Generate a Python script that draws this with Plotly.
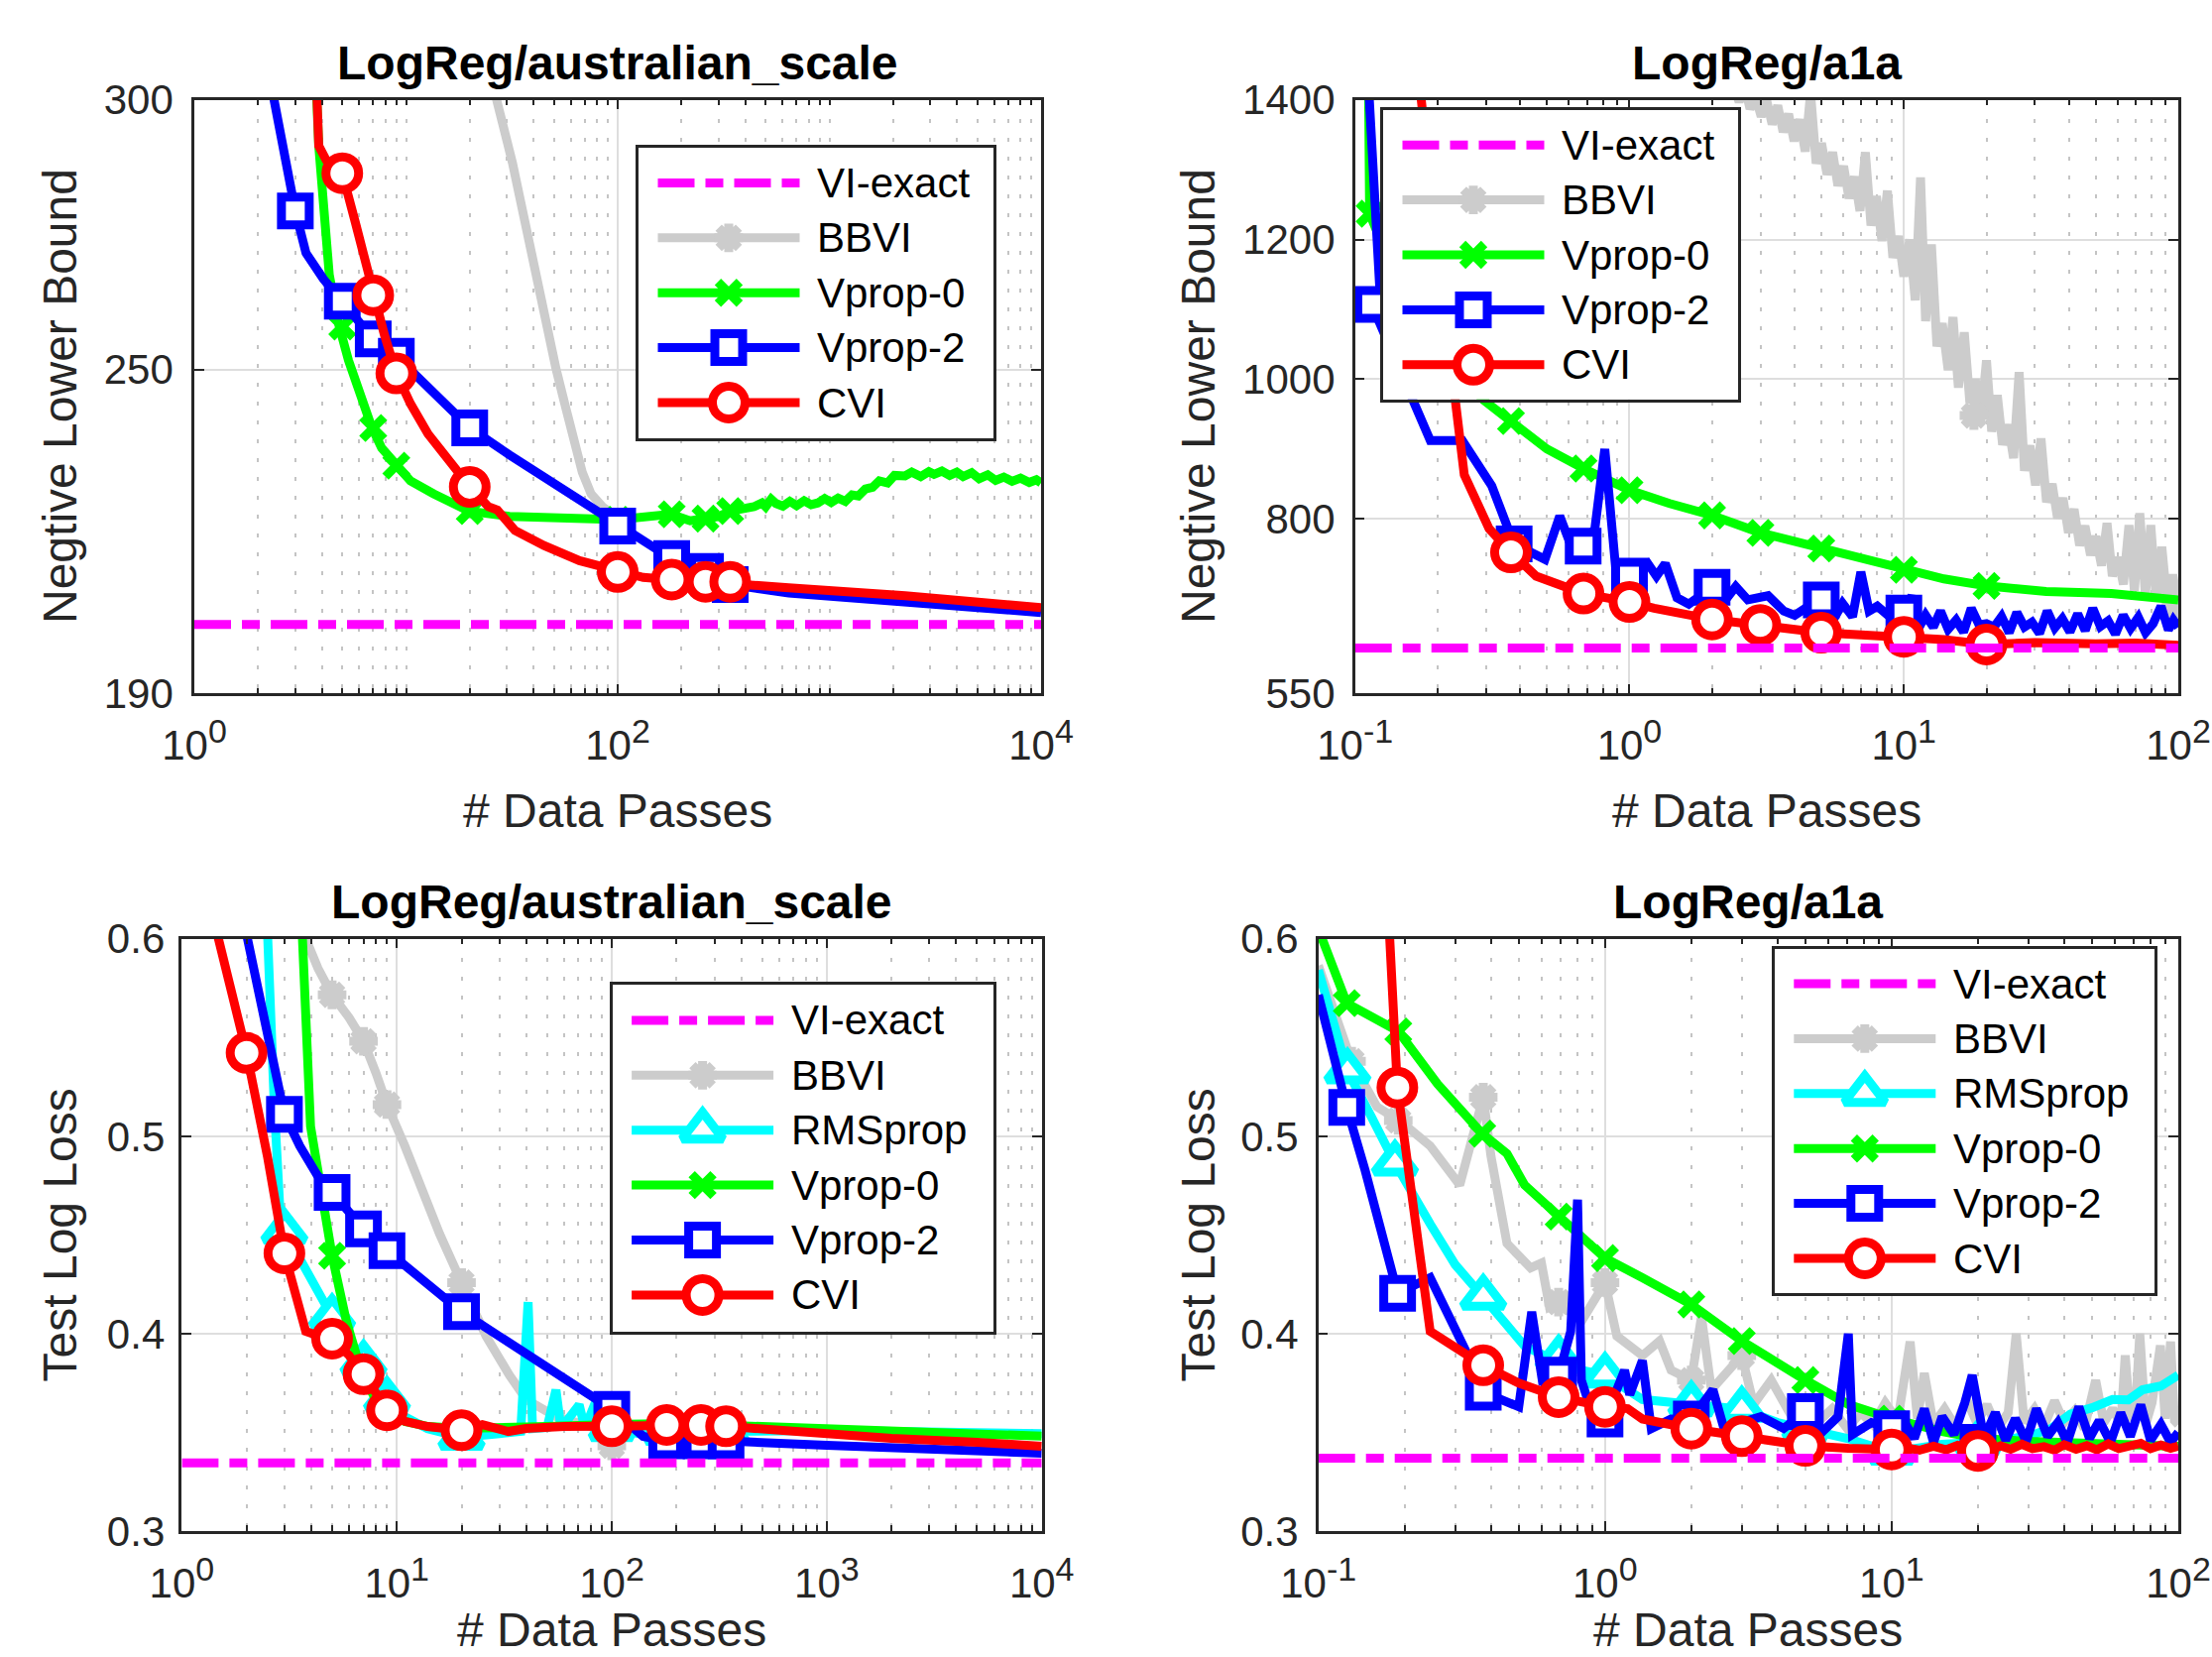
import plotly.graph_objects as go

W, H = 2231, 1671
FONT = "Liberation Sans, Arial, Helvetica, sans-serif"
AXC = "#262626"

# ======================= DATA =======================
# --- Top-left: LogReg/australian_scale, Negtive Lower Bound ---
tl_vi_x = [1, 10000]
tl_vi_y = [202.8, 202.8]

tl_bbvi_x = [24, 26.8, 31.8, 38.5, 45.1, 51.1, 56.2, 61.8, 68, 74.8, 84.8, 96.3, 100]
tl_bbvi_y = [310, 300, 288.4, 272.4, 260.4, 250.2, 243.7, 236.5, 231, 227, 224.6, 223, 222.6]

tl_vp0_x = [3.7, 3.82, 3.87, 4.34, 4.77, 5.35, 6.03, 6.88, 7.67, 8.98, 10.5, 13.5, 19.8, 30.8, 51, 100,
            179, 220, 256, 300, 341,
            400, 440, 480, 500, 531, 560, 603, 650, 700, 760,
            820, 881, 950, 1020, 1100, 1190, 1280, 1370, 1480, 1600,
            1720, 1884, 2030, 2276, 2450, 2700, 2950, 3124, 3400, 3700,
            4000, 4285, 4700, 5100, 5600, 6100, 6668, 7300, 8000, 8800,
            9500, 10000]
tl_vp0_y = [310, 300, 291.5, 267.6, 258.9, 251.7, 245.3, 239.4, 235.5, 232.2, 229.4, 227.0, 223.8, 222.8, 222.4, 222.2,
            223.2, 222.0, 222.4, 222.8, 223.8,
            224.2, 224.6, 225.3, 224.6, 226.0, 225.2, 224.7, 225.6, 224.8, 225.7,
            225.0, 225.3, 226.1, 225.4, 226.2, 225.6, 226.8, 226.6, 227.9, 228.2,
            229.4, 229.0, 230.4, 230.3, 231.0, 230.2, 231.1, 230.6, 231.2, 230.4,
            231.0, 230.2, 230.9, 229.8, 230.5, 229.5, 230.1, 229.3, 229.9, 229.1,
            229.6, 229.0]
tl_vp0_mx = [5, 7, 9, 20, 100, 180, 260, 340]
tl_vp0_my = [258, 239.2, 232.2, 223.8, 222.2, 223.2, 222.4, 223.8]

tl_vp2_x = [2.3, 2.38, 3, 3.37, 4.07, 5, 7, 9, 12.7, 20, 30.8, 51, 100, 179, 256, 341, 643, 2280, 10000]
tl_vp2_y = [310, 300, 279.4, 271.6, 266.8, 262.7, 255.7, 252.5, 246.9, 239.2, 234.2, 228.6, 221.0, 215.0, 212.6, 210.2, 208.6, 206.9, 205.0]
tl_vp2_mx = [3, 5, 7, 9, 20, 100, 180, 260, 340]
tl_vp2_my = [279.4, 262.7, 255.7, 252.5, 239.2, 221.0, 215.0, 212.6, 210.2]

tl_cvi_x = [3.72, 3.77, 3.87, 4.2, 5, 5.77, 7, 7.9, 9, 10.5, 12.7, 16.4, 20, 24.5, 27, 32.7, 44.9, 66, 100,
            132, 180, 260, 340, 643, 2280, 10000]
tl_cvi_y = [310, 300, 291.5, 288.8, 286.4, 277.2, 263.8, 256.5, 249.3, 243.7, 238.1, 232.2, 228.3, 224.6, 224.0,
            220.2, 217.4, 214.6, 212.5, 211.5, 211.1, 210.7, 210.7, 209.6, 208.1, 205.9]
tl_cvi_mx = [5, 7, 9, 20, 100, 180, 260, 340]
tl_cvi_my = [286.4, 263.8, 249.3, 228.3, 212.5, 211.1, 210.7, 210.7]

# --- Top-right: LogReg/a1a, Negtive Lower Bound ---
tr_vi_x = [0.1, 100]
tr_vi_y = [615, 615]

tr_bbvi_x = [2.4, 2.51, 2.63, 2.75, 2.88, 3.02, 3.16, 3.31, 3.47, 3.63, 3.80,
             3.98, 4.17, 4.37, 4.57, 4.79, 5.01, 5.25, 5.50, 5.75, 6.03,
             6.31, 6.61, 6.92, 7.24, 7.59, 7.94, 8.32, 8.71, 9.12, 9.55,
             10.0, 10.5, 11.0, 11.5, 12.0, 12.6, 13.2, 13.8, 14.5, 15.1,
             15.8, 16.6, 17.4, 18.2, 19.1, 20.0, 20.9, 21.9, 22.9, 24.0,
             25.1, 26.3, 27.5, 28.8, 30.2, 31.6, 33.1, 34.7, 36.3, 38.0,
             39.8, 41.7, 43.7, 45.7, 47.9, 50.1, 52.5, 55.0, 57.5, 60.3,
             63.1, 66.1, 69.2, 72.4, 75.9, 79.4, 83.2, 87.1, 91.2, 95.5, 100]
tr_bbvi_y = [1420, 1397, 1420, 1387, 1405, 1376, 1400, 1365, 1392, 1354, 1380,
             1341, 1372, 1326, 1410, 1309, 1338, 1293, 1325, 1277, 1305,
             1259, 1290, 1241, 1325, 1220, 1262, 1198, 1270, 1174, 1205,
             1147, 1200, 1113, 1289, 1083, 1193, 1047, 1080, 1013, 1089,
             988, 1067, 966, 1000, 943, 1027, 925, 977, 906, 935,
             887, 1010, 869, 905, 848, 915, 824, 850, 801, 830,
             780, 814, 762, 790, 748, 775, 733, 794, 718, 745,
             706, 791, 697, 808, 690, 791, 682, 760, 677, 720, 672]
tr_bbvi_mx = [18, 98]
tr_bbvi_my = [948, 673]

tr_vp0_x = [0.112, 0.113, 0.15, 0.2, 0.294, 0.37, 0.5, 0.68, 0.8, 1.0, 1.4, 2.0, 3.0, 4.0, 5.0, 7.0, 10, 14, 20, 33, 57, 100]
tr_vp0_y = [1420, 1237, 1120, 1040, 970, 940, 900, 872, 858, 841, 822, 805, 780, 768, 757.5, 743, 727, 714, 704, 696, 693, 684]
tr_vp0_mx = [0.113, 0.37, 0.68, 1, 2, 3, 5, 10, 20]
tr_vp0_my = [1237, 940, 872, 841, 805, 780, 757.5, 727, 704]

tr_vp2_x = [0.112, 0.123, 0.115, 0.162, 0.188, 0.246, 0.315, 0.366, 0.38, 0.492, 0.557, 0.613, 0.678, 0.748, 0.813, 0.889,
            1.0, 1.166, 1.254, 1.35, 1.49, 1.645, 2.0, 2.21, 2.44, 2.7, 3.2, 3.65, 4.0, 4.5, 5.0, 5.65, 5.98, 6.5,
            6.97, 7.47, 8.0, 9.0, 10.0, 10.7,
            11.2, 12, 12.8, 13.6, 14.5, 15.5, 16.5, 17.6, 18.8, 20,
            21.3, 22.7, 24.2, 25.8, 27.5, 29.3, 31.2, 33.3, 35.5, 37.8,
            40.3, 43, 45.8, 48.8, 52, 55.5, 59, 63, 67, 71.5,
            76, 81, 86.5, 92, 96, 100]
tr_vp2_y = [1420, 1131, 1107, 971, 912, 912, 847, 780, 764, 742, 804, 761, 761, 786, 900, 733,
            718, 736, 718, 736, 687, 678, 702, 681, 703, 684, 690, 668, 662, 675, 684, 662, 679, 660,
            724, 668, 675, 658, 665, 690,
            640, 662, 645, 668, 642, 655, 638, 672, 648, 650,
            645, 660, 637, 666, 645, 652, 636, 668, 644, 657,
            638, 664, 640, 672, 646, 654, 635, 662, 643, 659,
            637, 650, 675, 641, 655, 645]
tr_vp2_mx = [0.115, 0.38, 0.678, 1.0, 2.0, 5.0, 10.0]
tr_vp2_my = [1107, 764, 761, 718, 702, 684, 665]

tr_cvi_x = [0.172, 0.1743, 0.2, 0.234, 0.25, 0.308, 0.37, 0.457, 0.68, 1.0, 1.23, 2.0, 3.0, 5.0, 7.0, 10, 14, 20, 30, 50, 70, 100]
tr_cvi_y = [1450, 1400, 1180, 971, 863, 786, 752, 718, 693, 681, 672, 656, 648, 637, 634, 631, 627, 620, 623, 621, 622, 619]
tr_cvi_mx = [0.37, 0.68, 1, 2, 3, 5, 10, 20]
tr_cvi_my = [752, 693, 681, 656, 648, 637, 631, 620]

# --- Bottom-left: LogReg/australian_scale, Test Log Loss ---
bl_vi_x = [1, 10000]
bl_vi_y = [0.3346, 0.3346]

bl_bbvi_x = [3.6, 3.77, 4.3, 5, 6, 7, 8, 9, 10.9, 13.1, 15.8, 20, 23, 26, 33.4, 40, 55, 80, 100, 115]
bl_bbvi_y = [0.612, 0.6, 0.585, 0.5716, 0.56, 0.5481, 0.532, 0.516, 0.495, 0.4728, 0.4506, 0.4259, 0.4111,
             0.3988, 0.379, 0.3667, 0.358, 0.353, 0.3432, 0.35]
bl_bbvi_mx = [5, 7, 9, 20, 100]
bl_bbvi_my = [0.5716, 0.5481, 0.516, 0.4259, 0.3432]

bl_rms_x = [2.45, 2.51, 2.69, 2.85, 3.0, 3.77, 5.0, 5.83, 7.0, 9.0, 10.9, 13.9, 20, 30, 37.7, 40.8, 42.8, 50, 55, 58,
            70.5, 75, 85, 92, 100, 140, 300, 1000, 3000, 10000]
bl_rms_y = [0.615, 0.6, 0.5163, 0.4654, 0.452, 0.4333, 0.4086, 0.395, 0.3852, 0.3667, 0.358, 0.3519, 0.3475, 0.3494,
            0.3506, 0.416, 0.3519, 0.3525, 0.3716, 0.352, 0.364, 0.352, 0.3667, 0.352, 0.3519, 0.349, 0.3505, 0.351,
            0.3502, 0.3494]
bl_rms_mx = [3, 5, 7, 9, 20, 100, 180, 260, 340]
bl_rms_my = [0.452, 0.4086, 0.3852, 0.3667, 0.3475, 0.3519, 0.35, 0.35, 0.35]

bl_vp0_x = [3.6, 3.64, 3.97, 4.4, 5, 5.83, 6.6, 7.5, 8.48, 10.9, 14, 20, 30, 50, 100, 200, 500, 1000, 3000, 10000]
bl_vp0_y = [0.62, 0.6, 0.505, 0.478, 0.4395, 0.4062, 0.3864, 0.372, 0.3617, 0.3556, 0.353, 0.352, 0.3522, 0.353,
            0.354, 0.3545, 0.353, 0.352, 0.350, 0.3481]
bl_vp0_mx = [5, 7, 9, 20, 100, 180, 260, 340]
bl_vp0_my = [0.4395, 0.38, 0.3605, 0.352, 0.354, 0.3545, 0.354, 0.3535]

bl_vp2_x = [1.95, 2.02, 3, 3.54, 4.27, 5, 7, 9, 20, 100, 140, 180, 260, 340, 1000, 3000, 10000]
bl_vp2_y = [0.62, 0.6, 0.5111, 0.495, 0.4802, 0.4716, 0.4531, 0.442, 0.4111, 0.3617, 0.348, 0.3457, 0.3457,
            0.3457, 0.3435, 0.3415, 0.3395]
bl_vp2_mx = [3, 5, 7, 9, 20, 100, 180, 260, 340]
bl_vp2_my = [0.5111, 0.4716, 0.4531, 0.442, 0.4111, 0.3617, 0.3457, 0.3457, 0.3457]

bl_cvi_x = [1.45, 1.48, 2, 2.5, 3, 3.4, 3.77, 4.3, 5, 6, 7, 8, 9, 10.9, 13.9, 20, 25, 29.5, 33, 40, 60, 100,
            180, 260, 340, 600, 1000, 2000, 5000, 10000]
bl_cvi_y = [0.61, 0.6, 0.5422, 0.49, 0.4407, 0.42, 0.4012, 0.399, 0.3975, 0.389, 0.3795, 0.37, 0.3612, 0.3556,
            0.353, 0.3511, 0.354, 0.3519, 0.3505, 0.352, 0.353, 0.3531, 0.3538, 0.3538, 0.3531, 0.351, 0.349,
            0.347, 0.345, 0.343]
bl_cvi_mx = [2, 3, 5, 7, 9, 20, 100, 180, 260, 340]
bl_cvi_my = [0.5422, 0.4407, 0.3975, 0.3795, 0.3612, 0.3511, 0.3531, 0.3538, 0.3538, 0.3531]

# --- Bottom-right: LogReg/a1a, Test Log Loss ---
br_vi_x = [0.1, 100]
br_vi_y = [0.337, 0.337]

br_bbvi_x = [0.1, 0.1305, 0.16, 0.194, 0.2455, 0.3113, 0.376, 0.4, 0.455, 0.55, 0.6, 0.64, 0.689, 0.827, 1.0, 1.1,
             1.35, 1.55, 1.7, 2.0, 2.17, 2.35, 3.0, 3.3, 3.8, 4.4, 5.0,
             5.5, 6.2, 7, 7.8, 8.6, 9.5, 10.5, 11.6, 12.3, 13,
             14, 15.3, 16.7, 18.2, 19.8, 21.5, 23.4, 25.5, 27.2, 29,
             31.5, 34, 37, 40, 43.5, 47, 51.5, 55, 59, 63,
             65.3, 68, 71, 73.4, 77, 81, 86.6, 90, 94, 97, 100]
br_bbvi_y = [0.5864, 0.538, 0.515, 0.5074, 0.4951, 0.4753, 0.5198, 0.49, 0.4457, 0.4333, 0.4358, 0.4136, 0.416,
             0.4062, 0.4259, 0.3988, 0.3889, 0.3963, 0.3815, 0.3765, 0.4086, 0.3716, 0.3889, 0.3642, 0.3765, 0.36,
             0.3617,
             0.355, 0.362, 0.352, 0.360, 0.354, 0.365, 0.356, 0.396, 0.357, 0.380,
             0.354, 0.362, 0.353, 0.367, 0.355, 0.364, 0.352, 0.36, 0.40, 0.355,
             0.362, 0.353, 0.366, 0.355, 0.361, 0.352, 0.3765, 0.355, 0.362, 0.354,
             0.389, 0.356, 0.363, 0.40, 0.354, 0.365, 0.394, 0.357, 0.396, 0.356, 0.354]
br_bbvi_mx = [0.1305, 0.19, 0.376, 0.689, 1.0, 2.0, 3.0, 5.0]
br_bbvi_my = [0.538, 0.508, 0.5198, 0.416, 0.4259, 0.3765, 0.3889, 0.3617]

br_rms_x = [0.1, 0.1263, 0.153, 0.185, 0.2455, 0.3, 0.376, 0.524, 0.632, 0.689, 0.8, 1.0, 1.35, 1.96, 3.0, 4.0,
            5.0, 7.0, 10, 15, 20, 30, 36, 42, 50, 59, 67, 75, 87, 100]
br_rms_y = [0.5841, 0.533, 0.5099, 0.4864, 0.4556, 0.435, 0.4185, 0.3938, 0.388, 0.3877, 0.382, 0.379, 0.3667,
            0.3645, 0.3617, 0.355, 0.352, 0.347, 0.340, 0.344, 0.345, 0.348, 0.352, 0.3593, 0.3625, 0.3667, 0.3665,
            0.3716, 0.3735, 0.379]
br_rms_mx = [0.1263, 0.185, 0.376, 0.689, 1.0, 2.0, 3.0, 5.0, 10, 20]
br_rms_my = [0.533, 0.4864, 0.4185, 0.3877, 0.379, 0.3645, 0.3617, 0.352, 0.340, 0.345]

br_vp0_x = [0.1, 0.1029, 0.1256, 0.19, 0.2283, 0.2606, 0.373, 0.455, 0.524, 0.689, 1.0, 1.35, 2.0, 3.0, 3.82,
            5.0, 7.06, 9.4, 10, 15, 20, 30, 50, 100]
br_vp0_y = [0.605, 0.6, 0.5674, 0.5531, 0.538, 0.5264, 0.5013, 0.4912, 0.4753, 0.4593, 0.4383, 0.4284, 0.4148,
            0.3963, 0.3864, 0.3765, 0.3642, 0.358, 0.357, 0.3505, 0.347, 0.3455, 0.344, 0.343]
br_vp0_mx = [0.1256, 0.19, 0.373, 0.689, 1.0, 2.0, 3.0, 5.0, 10, 20]
br_vp0_my = [0.5674, 0.5531, 0.5013, 0.4593, 0.4383, 0.4148, 0.3963, 0.3765, 0.357, 0.347]

br_vp2_x = [0.1, 0.1256, 0.1455, 0.189, 0.2455, 0.283, 0.3266, 0.376, 0.5, 0.555,
            0.604, 0.689, 0.759, 0.802, 0.827, 0.9, 1.0, 1.17, 1.22, 1.35,
            1.45, 1.7, 2.0, 2.38, 2.6, 3.0, 3.5, 4.2, 5.0, 5.7,
            6.5, 7.06, 7.3, 8.5, 10,
            11, 12, 13, 14, 15, 16.5, 18, 19.1, 21, 23,
            25, 27, 29.5, 32, 35, 38, 41, 45, 49, 53,
            58, 63, 68, 74, 80, 87, 94, 100]
br_vp2_y = [0.5716, 0.5146, 0.4828, 0.4205, 0.4284, 0.4111, 0.3914, 0.3704, 0.363, 0.4111,
            0.3765, 0.379, 0.4012, 0.4679, 0.3765, 0.36, 0.3568, 0.3815, 0.3691, 0.3864,
            0.3519, 0.3568, 0.3568, 0.3716, 0.352, 0.355, 0.358, 0.352, 0.3605, 0.35,
            0.358, 0.4, 0.349, 0.355, 0.3519,
            0.356, 0.347, 0.362, 0.345, 0.358, 0.349, 0.365, 0.379, 0.347, 0.36,
            0.346, 0.357, 0.3455, 0.362, 0.348, 0.355, 0.345, 0.363, 0.347, 0.356,
            0.345, 0.36, 0.348, 0.364, 0.346, 0.354, 0.345, 0.35]
br_vp2_mx = [0.1256, 0.189, 0.376, 0.689, 1.0, 2.0, 5.0, 10, 20]
br_vp2_my = [0.5146, 0.4205, 0.3704, 0.379, 0.3568, 0.3568, 0.3605, 0.3519, 0.345]

br_cvi_x = [0.175, 0.1774, 0.1886, 0.2053, 0.2455, 0.376, 0.5, 0.689, 0.85, 1.0, 1.2, 1.35, 2.0, 2.5, 3.0, 4.0,
            5.0, 7.06, 10,
            11, 12.5, 14, 15.5, 17, 18.5, 20, 22, 24, 26,
            28.5, 31, 34, 37, 40, 44, 48, 52, 57, 62,
            68, 74, 80, 87, 94, 100]
br_cvi_y = [0.61, 0.6, 0.5247, 0.4828, 0.4012, 0.384, 0.375, 0.3679, 0.365, 0.363, 0.362, 0.3568, 0.3519, 0.350,
            0.3481, 0.346, 0.3432, 0.342, 0.3414,
            0.3425, 0.341, 0.343, 0.3412, 0.3435, 0.3418, 0.3406, 0.341, 0.3432, 0.3415,
            0.344, 0.3418, 0.3428, 0.341, 0.3438, 0.3415, 0.3433, 0.3412, 0.3442, 0.3418,
            0.343, 0.3445, 0.3418, 0.3436, 0.342, 0.343]
br_cvi_mx = [0.1886, 0.376, 0.689, 1.0, 2.0, 3.0, 5.0, 10, 20]
br_cvi_my = [0.5247, 0.384, 0.3679, 0.363, 0.3519, 0.3481, 0.3432, 0.3414, 0.3406]

# tick labels
SUP = "<sup><span style='font-size:34px'>%s</span></sup>"
xt_tl_vals = [1, 100, 10000]
xt_tl_text = ["10" + SUP % "0", "10" + SUP % "2", "10" + SUP % "4"]
xt_r_vals = [0.1, 1, 10, 100]
xt_r_text = ["10" + SUP % "-1", "10" + SUP % "0", "10" + SUP % "1", "10" + SUP % "2"]
xt_bl_vals = [1, 10, 100, 1000, 10000]
xt_bl_text = ["10" + SUP % "0", "10" + SUP % "1", "10" + SUP % "2", "10" + SUP % "3", "10" + SUP % "4"]
yt_tl_vals = [190, 250, 300]
yt_tr_vals = [550, 800, 1000, 1200, 1400]
yt_b_vals = [0.3, 0.4, 0.5, 0.6]
yt_b_text = ["0.3", "0.4", "0.5", "0.6"]

# ======================= STYLES =======================
STY = {
    "VI-exact": dict(color="#ff00ff", symbol=None),
    "BBVI": dict(color="#cccccc", symbol="asterisk", size=24, fill=None),
    "RMSprop": dict(color="#00ffff", symbol="triangle-up", size=36, fill="white"),
    "Vprop-0": dict(color="#00ff00", symbol="x-thin", size=22, fill=None),
    "Vprop-2": dict(color="#0000ff", symbol="square", size=28, fill="white"),
    "CVI": dict(color="#ff0000", symbol="circle", size=33, fill="white"),
}
LW = 9
VIDASH = "37px,11px,18px,11px"


def marker_dict(name):
    s = STY[name]
    if s["fill"] is None:
        return dict(symbol=s["symbol"], size=s["size"], color=s["color"],
                    line=dict(color=s["color"], width=LW))
    return dict(symbol=s["symbol"], size=s["size"], color=s["fill"],
                line=dict(color=s["color"], width=LW))


def minor_vals(d0, d1, extra=()):
    v = [k * 10.0 ** d for d in range(d0, d1) for k in range(2, 10)]
    return sorted(v + list(extra))


PANELS = [
    dict(n=1, box=(196, 100.7, 1050, 699.3), xr=[0, 4], yr=[190, 300],
         xtv=xt_tl_vals, xtt=xt_tl_text, ytv=yt_tl_vals, ytt=[str(v) for v in yt_tl_vals],
         minor=minor_vals(0, 4, (10, 1000)), title="LogReg/australian_scale", ylabel="Negtive Lower Bound",
         leg=(644, 148.9, 1002, 441.6), xlab_dy=118, ystand=10,
         series=[("BBVI", tl_bbvi_x, tl_bbvi_y, None, None),
                 ("Vprop-0", tl_vp0_x, tl_vp0_y, tl_vp0_mx, tl_vp0_my),
                 ("Vprop-2", tl_vp2_x, tl_vp2_y, tl_vp2_mx, tl_vp2_my),
                 ("CVI", tl_cvi_x, tl_cvi_y, tl_cvi_mx, tl_cvi_my),
                 ("VI-exact", tl_vi_x, tl_vi_y, None, None)],
         order=["VI-exact", "BBVI", "Vprop-0", "Vprop-2", "CVI"]),
    dict(n=2, box=(1366.7, 100.7, 2197, 699.3), xr=[-1, 2], yr=[550, 1400],
         xtv=xt_r_vals, xtt=xt_r_text, ytv=yt_tr_vals, ytt=[str(v) for v in yt_tr_vals],
         minor=minor_vals(-1, 2), title="LogReg/a1a", ylabel="Negtive Lower Bound",
         leg=(1395, 110.7, 1753, 402.7), xlab_dy=118, ystand=9,
         series=[("BBVI", tr_bbvi_x, tr_bbvi_y, tr_bbvi_mx, tr_bbvi_my),
                 ("Vprop-0", tr_vp0_x, tr_vp0_y, tr_vp0_mx, tr_vp0_my),
                 ("Vprop-2", tr_vp2_x, tr_vp2_y, tr_vp2_mx, tr_vp2_my),
                 ("CVI", tr_cvi_x, tr_cvi_y, tr_cvi_mx, tr_cvi_my),
                 ("VI-exact", tr_vi_x, tr_vi_y, None, None)],
         order=["VI-exact", "BBVI", "Vprop-0", "Vprop-2", "CVI"]),
    dict(n=3, box=(183.4, 946.7, 1050.7, 1544.1), xr=[0, 4], yr=[0.3, 0.6],
         xtv=xt_bl_vals, xtt=xt_bl_text, ytv=yt_b_vals, ytt=yt_b_text,
         minor=minor_vals(0, 4), title="LogReg/australian_scale", ylabel="Test Log Loss",
         leg=(617.6, 993.4, 1002, 1342.5), xlab_dy=99, ystand=6,
         series=[("BBVI", bl_bbvi_x, bl_bbvi_y, bl_bbvi_mx, bl_bbvi_my),
                 ("RMSprop", bl_rms_x, bl_rms_y, bl_rms_mx, bl_rms_my),
                 ("Vprop-0", bl_vp0_x, bl_vp0_y, bl_vp0_mx, bl_vp0_my),
                 ("Vprop-2", bl_vp2_x, bl_vp2_y, bl_vp2_mx, bl_vp2_my),
                 ("CVI", bl_cvi_x, bl_cvi_y, bl_cvi_mx, bl_cvi_my),
                 ("VI-exact", bl_vi_x, bl_vi_y, None, None)],
         order=["VI-exact", "BBVI", "RMSprop", "Vprop-0", "Vprop-2", "CVI"]),
    dict(n=4, box=(1329.7, 946.7, 2197, 1544.1), xr=[-1, 2], yr=[0.3, 0.6],
         xtv=xt_r_vals, xtt=xt_r_text, ytv=yt_b_vals, ytt=yt_b_text,
         minor=minor_vals(-1, 2), title="LogReg/a1a", ylabel="Test Log Loss",
         leg=(1789.8, 956.5, 2172.8, 1304.2), xlab_dy=99, ystand=9,
         series=[("BBVI", br_bbvi_x, br_bbvi_y, br_bbvi_mx, br_bbvi_my),
                 ("RMSprop", br_rms_x, br_rms_y, br_rms_mx, br_rms_my),
                 ("Vprop-0", br_vp0_x, br_vp0_y, br_vp0_mx, br_vp0_my),
                 ("Vprop-2", br_vp2_x, br_vp2_y, br_vp2_mx, br_vp2_my),
                 ("CVI", br_cvi_x, br_cvi_y, br_cvi_mx, br_cvi_my),
                 ("VI-exact", br_vi_x, br_vi_y, None, None)],
         order=["VI-exact", "BBVI", "RMSprop", "Vprop-0", "Vprop-2", "CVI"]),
]

fig = go.Figure()
layout = dict(width=W, height=H, autosize=False,
              margin=dict(l=0, r=0, t=0, b=0, pad=0, autoexpand=False),
              paper_bgcolor="white", plot_bgcolor="white", showlegend=False)
annotations = []


def text_ann(xpx, ypx, text, size, color, bold=False, angle=0):
    annotations.append(dict(xref="paper", yref="paper", x=xpx / W, y=1 - ypx / H, text=text,
                            showarrow=False, xanchor="center", yanchor="middle", textangle=angle,
                            font=dict(family=FONT, size=size, color=color,
                                      weight="bold" if bold else "normal")))


for p in PANELS:
    n = p["n"]
    x0, y0, x1, y1 = p["box"]
    xs = "" if n == 1 else str(n)
    xa, ya = "x" + xs, "y" + xs
    layout["xaxis" + xs] = dict(
        domain=[x0 / W, x1 / W], type="log", range=p["xr"], anchor=ya,
        tickmode="array", tickvals=p["xtv"], ticktext=p["xtt"],
        ticks="inside", ticklen=10, tickwidth=2, tickcolor=AXC,
        showline=True, linecolor=AXC, linewidth=2.5, mirror="ticks",
        showgrid=True, gridcolor="#dedede", gridwidth=2, zeroline=False, automargin=False,
        tickfont=dict(family=FONT, size=42, color=AXC), ticklabelstandoff=14,
        minor=dict(tickmode="array", tickvals=p["minor"], ticks="inside", ticklen=6, tickwidth=2,
                   tickcolor=AXC, showgrid=True, gridcolor="#c4c4c4", gridwidth=2, griddash="4px,15px"),
        fixedrange=True)
    layout["yaxis" + xs] = dict(
        domain=[1 - y1 / H, 1 - y0 / H], range=p["yr"], anchor=xa,
        tickmode="array", tickvals=p["ytv"], ticktext=p["ytt"],
        ticks="inside", ticklen=10, tickwidth=2, tickcolor=AXC,
        showline=True, linecolor=AXC, linewidth=2.5, mirror="ticks",
        showgrid=True, gridcolor="#dedede", gridwidth=2, zeroline=False, automargin=False,
        tickfont=dict(family=FONT, size=42, color=AXC), ticklabelstandoff=p["ystand"], fixedrange=True)

    for name, lx, ly, mx, my in p["series"]:
        s = STY[name]
        line = dict(color=s["color"], width=LW)
        if name == "VI-exact":
            line["dash"] = VIDASH
        fig.add_trace(go.Scatter(x=lx, y=ly, mode="lines", line=line, xaxis=xa, yaxis=ya,
                                 showlegend=False, hoverinfo="skip"))
        if mx is not None:
            fig.add_trace(go.Scatter(x=mx, y=my, mode="markers", marker=marker_dict(name),
                                     xaxis=xa, yaxis=ya, showlegend=False, hoverinfo="skip"))

    # titles and labels
    cx = (x0 + x1) / 2
    cy = (y0 + y1) / 2
    text_ann(cx, y0 - 37, p["title"], 48, "black", bold=True)
    text_ann(cx, y1 + p["xlab_dy"], "# Data Passes", 48, AXC)
    ylx = 60 if n in (1, 3) else 1208
    text_ann(ylx, cy, p["ylabel"], 48, AXC, angle=-90)

    # custom legend box (own axes so the white box covers the data)
    lx0, ly0, lx1, ly1 = p["leg"]
    ln = n + 4
    lxa, lya = "x%d" % ln, "y%d" % ln
    layout["xaxis%d" % ln] = dict(domain=[lx0 / W, lx1 / W], range=[0, 1], anchor=lya, showline=True,
                                  mirror=True, linecolor=AXC, linewidth=2.5, ticks="", showticklabels=False,
                                  showgrid=False, zeroline=False, fixedrange=True, automargin=False)
    layout["yaxis%d" % ln] = dict(domain=[1 - ly1 / H, 1 - ly0 / H], range=[0, 1], anchor=lxa, showline=True,
                                  mirror=True, linecolor=AXC, linewidth=2.5, ticks="", showticklabels=False,
                                  showgrid=False, zeroline=False, fixedrange=True, automargin=False)
    bw, bh = lx1 - lx0, ly1 - ly0
    for i, name in enumerate(p["order"]):
        s = STY[name]
        yy = 1 - (35.5 + 55.4 * i) / bh
        line = dict(color=s["color"], width=LW)
        if name == "VI-exact":
            line["dash"] = VIDASH
        fig.add_trace(go.Scatter(x=[19.5 / bw, 162.5 / bw], y=[yy, yy], mode="lines", line=line,
                                 xaxis=lxa, yaxis=lya, showlegend=False, hoverinfo="skip", cliponaxis=False))
        if s["symbol"] is not None:
            fig.add_trace(go.Scatter(x=[91 / bw], y=[yy], mode="markers", marker=marker_dict(name),
                                     xaxis=lxa, yaxis=lya, showlegend=False, hoverinfo="skip", cliponaxis=False))
        annotations.append(dict(xref=lxa, yref=lya, x=178 / bw, y=yy, text=name, showarrow=False,
                                xanchor="left", yanchor="middle",
                                font=dict(family=FONT, size=42, color="black")))

layout["annotations"] = annotations
fig.update_layout(**layout)

fig.write_html("out.html", config={"displayModeBar": False},
               post_script="document.body.style.margin='0';document.body.style.overflow='hidden';")
